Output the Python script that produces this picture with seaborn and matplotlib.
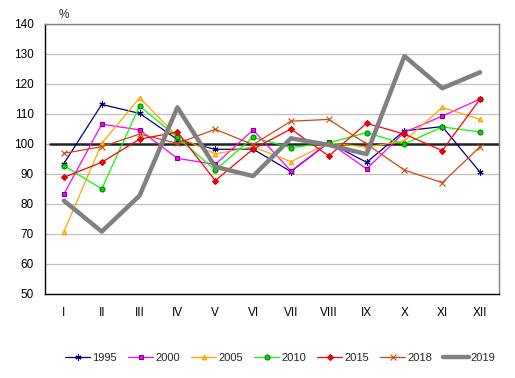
import matplotlib

matplotlib.use("Agg")

import matplotlib.pyplot as plt  # noqa: E402
import pandas as pd  # noqa: E402
import seaborn as sns  # noqa: E402

months = ["I", "II", "III", "IV", "V", "VI", "VII", "VIII", "IX", "X", "XI", "XII"]

y1995 = [93.5, 113.2, 110.2, 101.5, 98.2, 98.3, 90.8, 100.5, 93.9, 104.4, 105.8, 90.6]
y2000 = [83.3, 106.6, 104.7, 95.2, 93.2, 104.7, 91.0, 100.6, 91.7, 103.9, 109.3, 115.0]
y2005 = [70.8, 100.2, 115.4, 102.5, 96.7, 99.1, 94.1, 100.3, 99.0, 101.0, 112.2, 108.2]
y2010 = [92.8, 85.0, 112.7, 102.2, 91.3, 102.2, 98.8, 100.4, 103.8, 100.0, 105.7, 104.0]
y2015 = [88.9, 93.9, 101.6, 104.0, 87.8, 98.3, 105.0, 96.0, 106.9, 103.3, 97.8, 115.0]
y2018 = [96.9, 99.1, 103.3, 100.2, 104.9, 99.8, 107.6, 108.2, 100.0, 91.3, 87.1, 99.1]
y2019 = [81.1, 70.8, 82.8, 112.2, 92.4, 89.3, 101.9, 99.7, 96.6, 129.3, 118.6, 123.9]

series = {
    "1995": y1995,
    "2000": y2000,
    "2005": y2005,
    "2010": y2010,
    "2015": y2015,
    "2018": y2018,
    "2019": y2019,
}

# line colour, marker, marker face, marker edge, marker size, line width
styles = {
    "1995": ("#000080", (6, 2, 0), "#000080", "#000080", 8, 0.9),
    "2000": ("#FF00FF", "s", "#FF00FF", "#800080", 5.5, 0.9),
    "2005": ("#FFA500", "^", "#FFD700", "#FF9900", 6, 0.9),
    "2010": ("#00FF00", "o", "#00DD00", "#008000", 6.5, 0.9),
    "2015": ("#FF0000", "D", "#FF0000", "#CC0000", 5.5, 0.9),
    "2018": ("#CC4A10", "x", "#CC4A10", "#CC4A10", 7, 0.9),
    "2019": ("#808080", "", "#808080", "#808080", 0, 3.2),
}

sns.set_theme(style="white")
plt.rcParams["font.family"] = ["Liberation Sans", "DejaVu Sans"]

fig = plt.figure(figsize=(5.15, 3.78), dpi=100)
ax = fig.add_axes([45 / 515, 1 - 294 / 378, 454 / 515, 270 / 378])

for name, vals in series.items():
    color, marker, face, edge, ms, lw = styles[name]
    df = pd.DataFrame({"month": months, "value": vals})
    sns.lineplot(
        data=df,
        x="month",
        y="value",
        ax=ax,
        color=color,
        marker=marker if marker else None,
        markersize=ms,
        markerfacecolor=face,
        markeredgecolor=edge,
        markeredgewidth=0.8,
        linewidth=lw,
        label=name,
        sort=False,
        zorder=3 if name != "2019" else 4,
    )

ax.axhline(100, color="#222222", lw=1.8, xmin=0.01, zorder=2.5)

ax.set_ylim(50, 140)
ax.set_xlim(-0.5, 11.5)
ax.set_yticks(range(50, 141, 10))
ax.yaxis.grid(True, color="#C0C0C0", lw=0.9)
ax.xaxis.grid(False)
ax.set_xlabel("")
ax.set_ylabel("")
ax.tick_params(axis="both", length=0, labelsize=8.5, colors="black")
ax.tick_params(axis="x", pad=9)
ax.tick_params(axis="y", pad=8)

for side in ["left", "bottom"]:
    ax.spines[side].set_color("black")
    ax.spines[side].set_linewidth(1.0)
for side in ["top", "right"]:
    ax.spines[side].set_color("#808080")
    ax.spines[side].set_linewidth(1.0)

ax.text(0, 1.033, "%", transform=ax.get_xaxis_transform(), ha="center",
        va="center", fontsize=8.5)

handles, labels = ax.get_legend_handles_labels()
for h in handles:
    if h.get_marker() not in (None, "None", ""):
        h.set_markersize(h.get_markersize() * 0.55)
ax.legend(
    handles,
    labels,
    loc="center",
    bbox_to_anchor=(280 / 515, 1 - 358 / 378),
    bbox_transform=fig.transFigure,
    ncol=7,
    frameon=False,
    fontsize=8,
    handlelength=2.3,
    handletextpad=0.15,
    columnspacing=1.0,
    borderpad=0,
)

fig.savefig("out.png", dpi=100)
